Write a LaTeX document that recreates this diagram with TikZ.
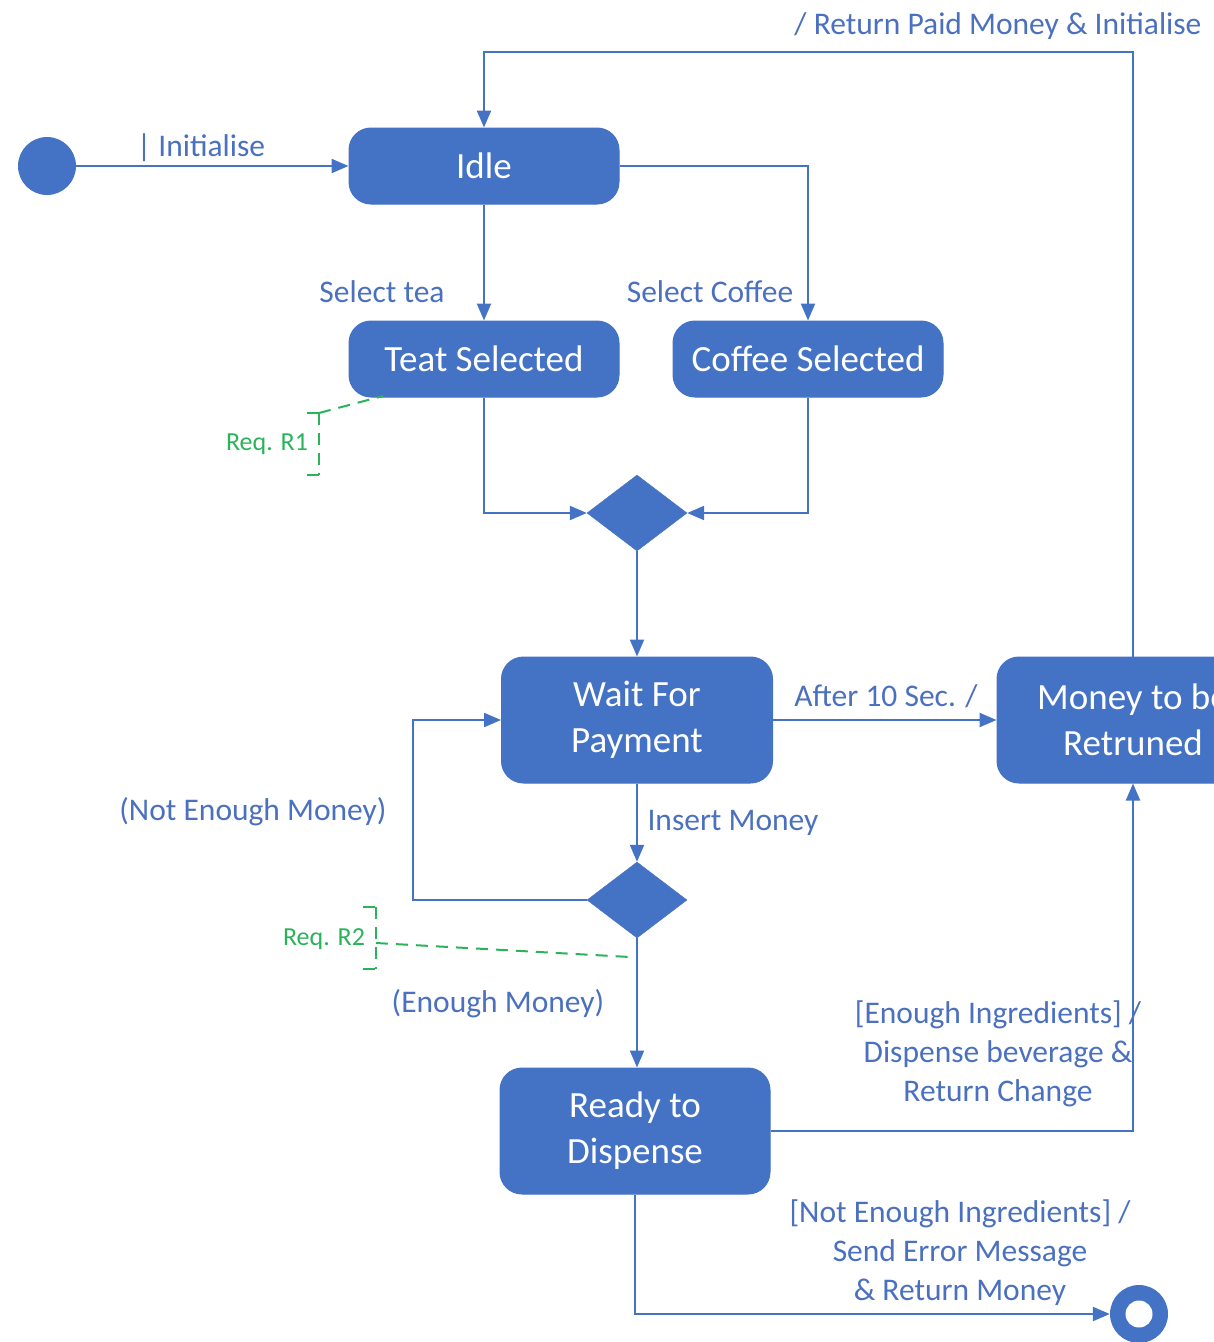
\documentclass[tikz,border=0pt]{standalone}
\usepackage{fontspec}
\setmainfont{Carlito}
\usetikzlibrary{arrows.meta,shapes.geometric,calc}
\definecolor{ublue}{HTML}{4472C4}
\definecolor{lblue}{HTML}{4A70BF}
\definecolor{rgreen}{HTML}{2BB35B}
\tikzset{
  state/.style={draw=ublue, fill=ublue, rounded corners=22pt, text=white, line width=1pt,
    minimum width=270pt, minimum height=76pt, align=center, inner sep=0pt,
    font=\fontsize{37}{46}\selectfont},
  bigstate/.style={state, minimum height=126pt},
  choice/.style={diamond, draw=ublue, fill=ublue, minimum width=100pt, minimum height=76pt, inner sep=0pt},
  dot/.style={circle, fill=ublue, minimum size=58pt, inner sep=0pt},
  flow/.style={draw=ublue, line width=2.2pt, -{Triangle[length=17pt,width=14pt]}},
  lbl/.style={text=lblue, font=\fontsize{31.5}{39}\selectfont, inner sep=0pt, align=center},
  req/.style={text=rgreen, font=\fontsize{26}{30}\selectfont, inner sep=0pt},
  reqline/.style={draw=rgreen, line width=2pt, dash pattern=on 12pt off 8pt},
}
\begin{document}
\begin{tikzpicture}[x=1pt,y=-1pt]
\useasboundingbox (0,0) rectangle (1214,1342);
\begin{scope}
\clip (0,0) rectangle (1214,1342);
% nodes
\node[dot] (init) at (47,166) {};
\node[state] (idle) at (484,166) {Idle};
\node[state] (teat) at (484,359) {Teat Selected};
\node[state] (coffee) at (808,359) {Coffee Selected};
\node[choice] (d1) at (637,513) {};
\node[bigstate, minimum width=271pt] (wait) at (637,720) {Wait For\\Payment};
\node[bigstate, minimum width=272pt] (money) at (1133,720) {Money to be\\Retruned};
\node[choice] (d2) at (637,900) {};
\node[bigstate] (ready) at (635,1131) {Ready to\\Dispense};
\node[dot] (final) at (1139,1314) {};
\fill[white] (final.center) circle (13.5);
% coordinates
\coordinate (topc) at (809,52);
\coordinate (loopc) at (413,900);
\coordinate (r1a) at (383,396);
\coordinate (r2a) at (630,957);
% connectors
\draw[flow] (init) -- (idle.west);
\draw[flow] (idle.south) -- (teat.north);
\draw[flow] (idle.east) -| (coffee.north);
\draw[flow] (teat.south) |- (d1.west);
\draw[flow] (coffee.south) |- (d1.east);
\draw[flow] (d1.south) -- (wait.north);
\draw[flow] (wait.east) -- (money.west);
\draw[flow] (money.north) |- (topc) -| (idle.north);
\draw[flow] (wait.south) -- (d2.north);
\draw[flow] (d2.west) -- (loopc) |- (wait.west);
\draw[flow] (d2.south) -- (d2.south |- ready.north);
\draw[flow] (ready.east) -| (money.south);
\draw[flow] (ready.south) |- (final.west);
% labels
\node[lbl] (linit) at (201,148) {| Initialise};
\node[lbl] (ltea) at (382,292) {Select tea};
\node[lbl] (lcof) at (710,292) {Select Coffee};
\node[lbl] (lret) at (998,26) {/ Return Paid Money \& Initialise};
\node[lbl] (lafter) at (886,696) {After 10 Sec. /};
\node[lbl] (lins) at (733,823) {Insert Money};
\node[lbl] (lnot) at (253,812) {(Not Enough Money)};
\node[lbl] (lenough) at (498,1004) {(Enough Money)};
\node[lbl, text depth=0pt] (ling) at (998,1051) {[Enough Ingredients] /\\Dispense beverage \&\\Return Change};
\node[lbl] (lnoing) at (960,1253) {[Not Enough Ingredients] /\\Send Error Message\\\& Return Money};
% requirements
\node[req] (r1) at (267,444) {Req. R1};
\node[req] (r2) at (324,939) {Req. R2};
\draw[reqline] (307,413) -- (319,413);
\draw[reqline] (319,413) -- (319,475);
\draw[reqline] (307,475) -- (319,475);
\draw[reqline] (319,413) -- (r1a);
\draw[reqline] (363,907) -- (376,907);
\draw[reqline] (376,907) -- (376,969);
\draw[reqline] (363,969) -- (376,969);
\draw[reqline] (376,943) -- (r2a);
\end{scope}
\end{tikzpicture}
\end{document}
